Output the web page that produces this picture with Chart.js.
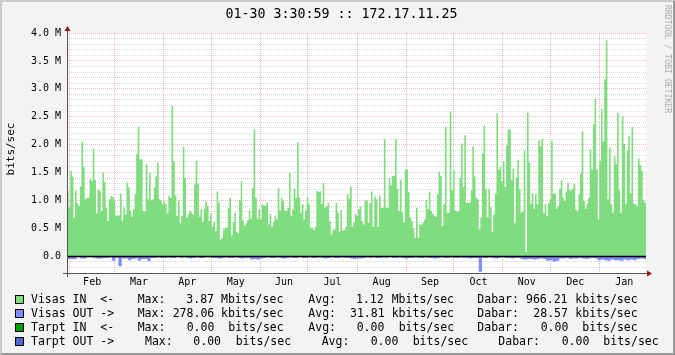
<!DOCTYPE html>
<html>
<head>
<meta charset="utf-8">
<script src="https://cdn.jsdelivr.net/npm/chart.js@4.4.0/dist/chart.umd.min.js"></script>
<style>
body { margin: 0; }
#wrap { position: relative; width: 675px; height: 355px; background: #f3f3f3; overflow: hidden; font-family: "DejaVu Sans Mono", monospace; color: #000; }
#wrap canvas { position: absolute; left: 0; top: 0; }
.frame { position: absolute; left: 0; top: 0; width: 675px; height: 355px; box-sizing: border-box; border-style: solid; border-width: 2px; border-color: #cbcbcb #999 #999 #cbcbcb; pointer-events: none; }
.title { position: absolute; top: 5px; left: 4px; width: 675px; text-align: center; font-size: 13.3px; line-height: 18px; white-space: pre; }
.ylab { position: absolute; left: 10px; top: 149px; transform: translate(-50%, -50%) rotate(-90deg); font-size: 11px; white-space: pre; }
.mark { position: absolute; left: 668px; top: 59px; transform: translate(-50%, -50%) rotate(90deg); font-size: 8.2px; color: #a8a8a8; white-space: pre; }
.leg { position: absolute; font-size: 11.5px; line-height: 14px; white-space: pre; }
.box { position: absolute; left: 15px; width: 7px; height: 7px; border: 1px solid #000; }
</style>
</head>
<body>
<div id="wrap">
  <canvas id="graf" width="675" height="355"></canvas>
  <div class="title">01-30 3:30:59 :: 172.17.11.25</div>
  <div class="ylab">bits/sec</div>
  <div class="mark">RRDTOOL / TOBI OETIKER</div>
  <div id="legend"></div>
  <div class="frame"></div>
</div>
<script>
// laiko asis: metai atgal nuo 01-30 03:30
const spanDays = 365;
const firstMonthStart = 1.85;
const monthNames = ["Feb", "Mar", "Apr", "May", "Jun", "Jul", "Aug", "Sep", "Oct", "Nov", "Dec", "Jan"];
const monthDays = [28, 31, 30, 31, 30, 31, 31, 30, 31, 30, 31, 31];

// Visas IN (Mbits/sec), dienos vidurkiai
const visasIn = [
  1.17,0.87,1.53,1.43,0.69,1.18,0.95,0.90,1.25,2.05,
  1.60,1.02,1.05,1.05,1.38,1.35,1.93,1.37,0.77,1.19,
  1.17,0.81,1.50,1.33,0.87,0.63,1.02,1.08,1.06,1.00,
  0.73,0.73,0.73,1.12,0.64,0.88,0.75,1.32,1.23,0.82,
  0.71,0.84,1.11,1.83,2.32,1.74,1.74,0.81,0.80,1.65,
  1.02,1.49,1.00,1.02,1.24,1.43,1.68,1.02,1.00,0.93,
  0.99,0.93,0.77,1.08,1.05,2.70,1.70,1.09,0.72,0.99,
  0.59,0.72,1.96,1.40,0.69,0.75,0.81,0.78,0.75,1.29,
  1.71,1.30,0.71,0.84,0.62,0.85,0.98,0.90,0.63,0.76,
  0.53,0.62,0.45,1.16,0.96,0.29,0.33,0.48,0.51,0.51,
  0.86,1.05,0.37,0.61,0.78,0.44,0.41,1.00,1.34,0.64,
  0.55,0.59,0.65,0.82,0.67,1.22,2.27,1.05,0.67,0.84,
  0.66,0.93,
  0.91,0.90,0.96,0.57,0.76,0.53,0.62,0.73,0.66,1.22,
  0.82,1.04,0.99,0.82,0.81,0.87,1.49,0.72,0.84,1.21,
  1.04,2.04,1.05,0.78,0.93,0.66,0.82,1.06,0.93,0.51,
  0.51,0.47,0.53,1.17,1.15,1.17,0.94,1.31,0.87,0.89,
  0.96,0.63,0.39,0.47,0.48,0.96,0.79,0.44,0.83,0.46,
  0.47,0.53,1.11,1.03,1.25,0.53,0.60,0.76,0.72,
  0.84,0.89,0.63,0.57,1.00,1.00,0.60,0.95,1.16,0.53,
  1.07,1.02,0.53,1.09,0.87,0.87,2.10,0.87,0.87,1.40,
  1.27,1.44,1.44,2.10,1.21,0.81,1.37,0.79,0.60,1.55,
  1.56,1.15,0.69,0.63,0.50,0.33,0.87,0.33,0.57,0.57,
  0.60,0.66,1.01,0.84,1.16,0.81,0.76,0.72,0.71,1.11,
  1.52,1.44,0.54,0.93,2.32,0.78,0.78,2.59,1.18,1.54,
  0.82,0.80,0.80,1.40,2.02,1.24,2.17,0.96,0.96,0.96,
  1.18,1.96,1.43,1.05,1.02,0.48,0.69,1.84,2.34,1.20,
  0.69,1.21,0.88,0.43,0.75,1.12,2.56,1.55,1.60,1.34,
  1.70,1.24,1.99,2.27,2.27,1.36,1.57,0.59,1.41,1.73,
  1.20,0.78,0.79,1.89,0.08,2.57,1.68,0.94,1.12,0.85,
  1.12,0.93,2.08,1.97,2.10,0.77,0.93,0.72,0.95,1.02,
  2.07,
  1.12,1.12,0.85,0.90,1.21,1.36,1.05,0.99,1.16,1.32,
  1.19,1.18,1.21,1.30,0.84,0.81,1.11,1.48,2.24,0.99,
  0.85,0.94,1.05,1.91,1.55,2.36,2.82,1.56,0.66,1.71,
  2.64,2.05,3.17,3.87,1.02,1.95,0.93,0.78,1.79,1.65,
  2.57,1.18,0.78,2.50,2.01,0.94,1.90,2.15,1.13,2.32,
  0.94,0.94,0.90,1.75,1.63,1.53,1.00,0.96
];

// Visas OUT (Mbits/sec, rodoma zemyn), dvieju dienu vidurkiai
const visasOut = [
  -0.05,-0.05,-0.05,-0.02,-0.04,-0.04,-0.02,-0.01,-0.03,-0.04,
  -0.04,-0.03,-0.03,-0.02,-0.08,-0.03,-0.18,-0.04,-0.04,-0.07,
  -0.05,-0.04,-0.08,-0.05,-0.05,-0.09,-0.03,-0.03,-0.02,-0.03,
  -0.03,-0.02,-0.03,-0.03,-0.01,-0.03,-0.02,-0.03,-0.04,-0.03,
  -0.02,-0.03,-0.03,-0.01,-0.02,-0.03,-0.03,-0.04,-0.03,-0.02,
  -0.03,-0.03,-0.02,-0.03,-0.04,-0.03,-0.03,-0.06,-0.05,-0.06,
  -0.04,-0.03,-0.02,-0.03,-0.03,-0.02,-0.03,-0.04,-0.03,-0.02,
  -0.03,-0.03,-0.01,-0.03,-0.03,-0.02,-0.03,-0.03,-0.02,-0.03,
  -0.04,-0.03,-0.02,-0.03,-0.03,-0.02,-0.03,-0.03,-0.04,-0.05,
  -0.04,-0.04,-0.03,-0.02,-0.03,-0.02,-0.03,-0.03,-0.02,-0.03,
  -0.01,-0.03,-0.03,-0.02,-0.03,-0.04,-0.03,-0.03,-0.02,-0.03,
  -0.03,-0.02,-0.03,-0.03,-0.04,-0.03,-0.02,-0.03,-0.03,-0.02,
  -0.03,-0.03,-0.02,-0.03,-0.03,-0.04,-0.03,-0.03,-0.278,-0.03,
  -0.03,-0.02,-0.03,-0.04,-0.03,-0.02,-0.03,-0.03,-0.04,-0.03,
  -0.03,-0.05,-0.06,-0.05,-0.05,-0.06,-0.05,-0.04,-0.05,-0.08,
  -0.07,-0.10,-0.08,-0.04,-0.04,-0.03,-0.05,-0.04,-0.04,-0.03,
  -0.04,-0.05,-0.04,-0.03,-0.04,-0.07,-0.06,-0.07,-0.08,-0.06,
  -0.07,-0.07,-0.08,-0.06,-0.07,-0.06,-0.07,-0.05,-0.04,-0.05
];

const yTicks = Array.from({ length: 44 }, (_, i) => (i - 3) / 10);

const legendRows = [
  { color: "#7fdc7f", y: 299.3, cells: [[31, "Visas IN  <-"], [137.7, "Max:"], [186.3, "3.87"], [221, "Mbits/sec"], [308.3, "Avg:"], [356, "1.12"], [391.7, "Mbits/sec"], [477.3, "Dabar:"], [526, "966.21"], [575.3, "kbits/sec"]] },
  { color: "#7f8cff", y: 313, cells: [[31, "Visas OUT ->"], [137.7, "Max:"], [172.7, "278.06"], [221, "kbits/sec"], [308.3, "Avg:"], [350, "31.81"], [391.7, "kbits/sec"], [477.3, "Dabar:"], [533.3, "28.57"], [575.3, "kbits/sec"]] },
  { color: "#00a000", y: 327, cells: [[31, "Tarpt IN  <-"], [137.7, "Max:"], [186.7, "0.00"], [228.3, "bits/sec"], [308.3, "Avg:"], [356.7, "0.00"], [398.7, "bits/sec"], [477.3, "Dabar:"], [540.7, "0.00"], [582.3, "bits/sec"]] },
  { color: "#4a6cc8", y: 341, cells: [[31, "Tarpt OUT ->"], [145, "Max:"], [193.3, "0.00"], [235.7, "bits/sec"], [321.7, "Avg:"], [370.7, "0.00"], [412.7, "bits/sec"], [498.3, "Dabar:"], [561.7, "0.00"], [603.3, "bits/sec"]] }
];

// menesiu ribos ir viduriai
const monthStarts = [];
const monthMids = [];
let acc = firstMonthStart;
monthDays.forEach((d) => {
  monthStarts.push(acc);
  monthMids.push(acc + d / 2);
  acc += d;
});

function toSteps(vals) {
  const step = spanDays / vals.length;
  const pts = vals.map((v, i) => ({ x: i * step, y: v }));
  pts.push({ x: spanDays, y: vals[vals.length - 1] });
  return pts;
}

const isMajor = (v) => Math.abs(v * 2 - Math.round(v * 2)) < 1e-6;
const majorGrid = "rgba(215,70,70,0.38)";
const minorGrid = "rgba(120,120,120,0.28)";
const tickFont = { family: "DejaVu Sans Mono", size: 10 };

const rrdPlugin = {
  id: "rrd",
  beforeDraw(chart) {
    const { ctx, chartArea: a } = chart;
    ctx.save();
    ctx.fillStyle = "#fff";
    ctx.fillRect(a.left, a.top, a.right - a.left, a.bottom - a.top);
    ctx.restore();
  },
  afterDraw(chart) {
    const { ctx, chartArea: a, scales } = chart;
    const y0 = Math.round(scales.y.getPixelForValue(0)) + 0.5;
    ctx.save();
    ctx.strokeStyle = "#000";
    ctx.lineWidth = 1.5;
    ctx.beginPath();
    ctx.moveTo(a.left, y0);
    ctx.lineTo(a.right, y0);
    ctx.stroke();

    ctx.strokeStyle = "#555";
    ctx.lineWidth = 1;
    ctx.beginPath();
    ctx.moveTo(a.left + 0.5, a.top - 4);
    ctx.lineTo(a.left + 0.5, a.bottom + 4);
    ctx.moveTo(a.left - 4, a.bottom + 0.5);
    ctx.lineTo(a.right + 1, a.bottom + 0.5);
    ctx.stroke();

    ctx.fillStyle = "#8c1414";
    ctx.beginPath();
    ctx.moveTo(a.left + 0.5, a.top - 7);
    ctx.lineTo(a.left - 2.5, a.top - 2);
    ctx.lineTo(a.left + 3.5, a.top - 2);
    ctx.closePath();
    ctx.fill();
    ctx.beginPath();
    ctx.moveTo(a.right + 6, a.bottom + 0.5);
    ctx.lineTo(a.right + 1, a.bottom - 2.5);
    ctx.lineTo(a.right + 1, a.bottom + 3.5);
    ctx.closePath();
    ctx.fill();
    ctx.restore();
  }
};

new Chart(document.getElementById("graf"), {
  type: "line",
  data: {
    datasets: [
      {
        label: "Visas IN",
        data: toSteps(visasIn),
        stepped: true,
        fill: "origin",
        backgroundColor: "#7fdc7f",
        borderColor: "rgba(0,0,0,0)",
        borderWidth: 0,
        pointRadius: 0
      },
      {
        label: "Visas OUT",
        data: toSteps(visasOut),
        stepped: true,
        fill: "origin",
        backgroundColor: "#7f8cff",
        borderColor: "rgba(0,0,0,0)",
        borderWidth: 0,
        pointRadius: 0
      }
    ]
  },
  options: {
    responsive: false,
    animation: false,
    devicePixelRatio: 1,
    layout: { padding: { top: 33, right: 29, left: 0, bottom: 0 } },
    plugins: { legend: { display: false }, tooltip: { enabled: false } },
    scales: {
      x: {
        type: "linear",
        position: "bottom",
        min: 0,
        max: spanDays,
        z: 1,
        afterBuildTicks: (s) => { s.ticks = monthStarts.map((v) => ({ value: v })); },
        afterFit: (s) => { s.height = 0; },
        ticks: { display: false },
        grid: { color: majorGrid, drawTicks: false },
        border: { display: false, dash: [1, 1] }
      },
      xl: {
        type: "linear",
        position: "bottom",
        min: 0,
        max: spanDays,
        afterBuildTicks: (s) => { s.ticks = monthMids.map((v) => ({ value: v })); },
        afterFit: (s) => { s.height = 82; },
        ticks: {
          autoSkip: false,
          maxRotation: 0,
          padding: 3,
          color: "#000",
          font: tickFont,
          callback: (v, i) => monthNames[i]
        },
        grid: { display: false, drawTicks: false },
        border: { display: false }
      },
      y: {
        min: -0.3,
        max: 4.0,
        z: 1,
        afterBuildTicks: (s) => { s.ticks = yTicks.map((v) => ({ value: v })); },
        afterFit: (s) => { s.width = 67; },
        ticks: {
          autoSkip: false,
          padding: 6,
          color: "#000",
          font: tickFont,
          callback: (v) => {
            if (!isMajor(v)) return "";
            return Math.abs(v) < 1e-9 ? "0.0" : v.toFixed(1) + " M";
          }
        },
        grid: {
          color: (c) => (isMajor(c.tick.value) ? majorGrid : minorGrid),
          drawTicks: false
        },
        border: { display: false, dash: [1, 1] }
      }
    }
  },
  plugins: [rrdPlugin]
});

// legenda
const legend = document.getElementById("legend");
legendRows.forEach((row) => {
  const box = document.createElement("div");
  box.className = "box";
  box.style.top = (row.y - 4.5) + "px";
  box.style.background = row.color;
  legend.appendChild(box);
  row.cells.forEach(([x, text]) => {
    const s = document.createElement("div");
    s.className = "leg";
    s.style.left = x + "px";
    s.style.top = (row.y - 7) + "px";
    s.textContent = text;
    legend.appendChild(s);
  });
});
</script>
</body>
</html>
